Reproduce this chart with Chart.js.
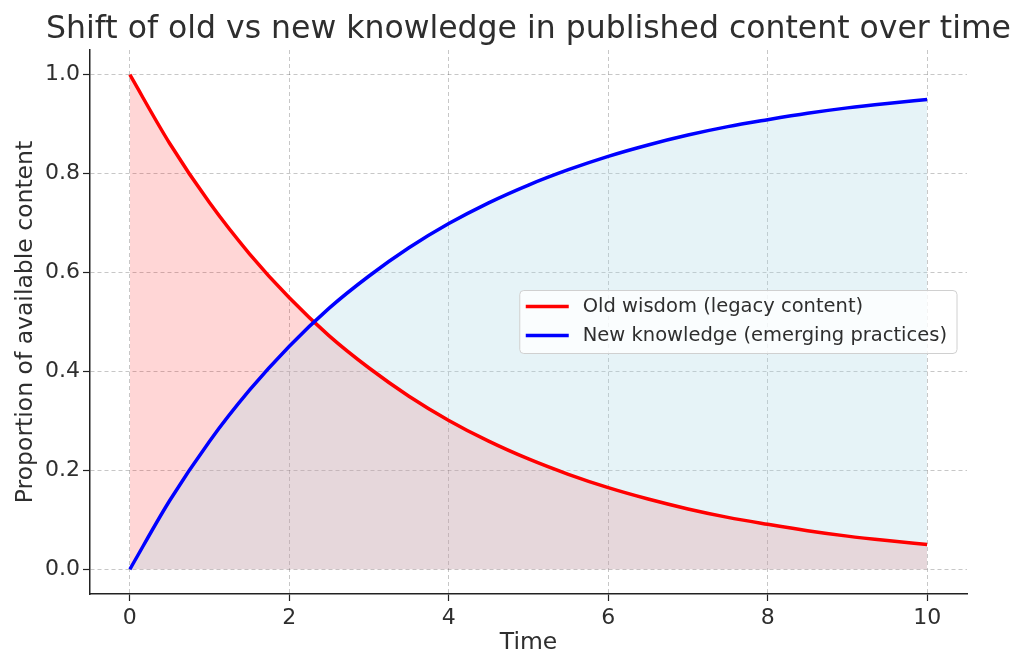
<!DOCTYPE html>
<html>
<head>
<meta charset="utf-8">
<script src="https://cdn.jsdelivr.net/npm/chart.js@4"></script>
<style>
  body { margin: 0; background: #fff; }
</style>
</head>
<body>
<canvas id="myChart" width="1024" height="670"></canvas>
<script>
// data
let timePoints = [0, 0.5, 1, 1.5, 2, 2.5, 3, 3.5, 4, 4.5, 5, 5.5, 6, 6.5, 7, 7.5, 8, 8.5, 9, 9.5, 10];
let oldWisdom = [1.000, 0.861, 0.741, 0.638, 0.549, 0.472, 0.407, 0.350, 0.301, 0.259, 0.223, 0.192, 0.165, 0.142, 0.122, 0.105, 0.091, 0.078, 0.067, 0.058, 0.050];
let newKnowledge = [0.000, 0.139, 0.259, 0.362, 0.451, 0.528, 0.593, 0.650, 0.699, 0.741, 0.777, 0.808, 0.835, 0.858, 0.878, 0.895, 0.909, 0.922, 0.933, 0.942, 0.950];
let xTicks = [0, 2, 4, 6, 8, 10];
let yTicks = [0, 0.2, 0.4, 0.6, 0.8, 1.0];
let seriesNames = ['Old wisdom (legacy content)', 'New knowledge (emerging practices)'];
let chartTitle = 'Shift of old vs new knowledge in published content over time';

const FONT = 'DejaVu Sans';
const TEXT = '#2e2e2e';

function toPoints(ys) {
  let pts = [];
  for (let i = 0; i < timePoints.length; i++) {
    pts.push({ x: timePoints[i], y: ys[i] });
  }
  return pts;
}

// title centred over the axes, allowed to run wider than them
const axesTitle = {
  id: 'axesTitle',
  afterDraw(chart) {
    const ctx = chart.ctx;
    const area = chart.chartArea;
    ctx.save();
    ctx.font = '31.5px "' + FONT + '"';
    ctx.fillStyle = TEXT;
    ctx.textAlign = 'center';
    ctx.textBaseline = 'alphabetic';
    ctx.fillText(chartTitle, (area.left + area.right) / 2, 38);
    ctx.restore();
  }
};

// legend drawn inside the plot, centre right like the original
const innerLegend = {
  id: 'innerLegend',
  afterDatasetsDraw(chart) {
    const ctx = chart.ctx;
    const area = chart.chartArea;
    const colors = ['#ff0000', '#0000ff'];
    ctx.save();
    ctx.font = '19.5px "' + FONT + '"';
    let textW = 0;
    seriesNames.forEach(n => { textW = Math.max(textW, ctx.measureText(n).width); });
    const w = 63 + textW + 10;
    const h = 63;
    const x = area.right - 10 - w;
    const y = (area.top + area.bottom) / 2 - h / 2;
    ctx.fillStyle = 'rgba(255,255,255,0.8)';
    ctx.strokeStyle = '#d0d0d0';
    ctx.lineWidth = 1;
    ctx.beginPath();
    ctx.roundRect(x, y, w, h, 4);
    ctx.fill();
    ctx.stroke();
    for (let i = 0; i < seriesNames.length; i++) {
      const ly = y + 16 + i * 29;
      ctx.strokeStyle = colors[i];
      ctx.lineWidth = 3.5;
      ctx.beginPath();
      ctx.moveTo(x + 6, ly);
      ctx.lineTo(x + 49, ly);
      ctx.stroke();
      ctx.fillStyle = TEXT;
      ctx.textBaseline = 'middle';
      ctx.fillText(seriesNames[i], x + 63, ly);
    }
    ctx.restore();
  }
};

const data = {
  datasets: [
    {
      label: seriesNames[0],
      data: toPoints(oldWisdom),
      borderColor: '#ff0000',
      backgroundColor: 'rgba(255, 0, 0, 0.16)',
      borderWidth: 3.5,
      fill: 'origin',
      pointRadius: 0,
      cubicInterpolationMode: 'monotone',
      order: 1
    },
    {
      label: seriesNames[1],
      data: toPoints(newKnowledge),
      borderColor: '#0000ff',
      backgroundColor: 'rgba(173, 216, 230, 0.3)',
      borderWidth: 3.5,
      fill: 'origin',
      pointRadius: 0,
      cubicInterpolationMode: 'monotone',
      order: 0
    }
  ]
};

const axisGrid = {
  color: 'rgba(0,0,0,0.22)',
  lineWidth: 1,
  tickColor: '#222',
  tickLength: 7,
  tickWidth: 1.2
};

const config = {
  type: 'line',
  data: data,
  options: {
    responsive: false,
    animation: false,
    layout: { padding: { left: 0, right: 57, top: 50, bottom: 0 } },
    plugins: {
      legend: { display: false },
      tooltip: { enabled: false },
      filler: { drawTime: 'beforeDatasetsDraw' }
    },
    scales: {
      x: {
        type: 'linear',
        min: -0.5,
        max: 10.5,
        afterBuildTicks: s => { s.ticks = xTicks.map(v => ({ value: v })); },
        afterFit: s => { s.height = 76; },
        ticks: {
          color: TEXT,
          font: { family: FONT, size: 22 },
          padding: 4,
          callback: v => String(v)
        },
        grid: axisGrid,
        border: { color: '#222', width: 1.5, dash: [4, 3] },
        title: {
          display: true,
          text: 'Time',
          color: TEXT,
          font: { family: FONT, size: 23.5 },
          padding: { top: 0, bottom: 13 }
        }
      },
      y: {
        min: -0.05,
        max: 1.05,
        afterBuildTicks: s => { s.ticks = yTicks.map(v => ({ value: v })); },
        afterFit: s => { s.width = 90; },
        ticks: {
          color: TEXT,
          font: { family: FONT, size: 22 },
          padding: 3,
          callback: v => v.toFixed(1)
        },
        grid: axisGrid,
        border: { color: '#222', width: 1.5, dash: [4, 3] },
        title: {
          display: true,
          text: 'Proportion of available content',
          color: TEXT,
          font: { family: FONT, size: 23.5 },
          padding: { top: 12, bottom: 0 }
        }
      }
    }
  },
  plugins: [axesTitle, innerLegend]
};

const myChart = new Chart(document.getElementById('myChart'), config);
</script>
</body>
</html>
